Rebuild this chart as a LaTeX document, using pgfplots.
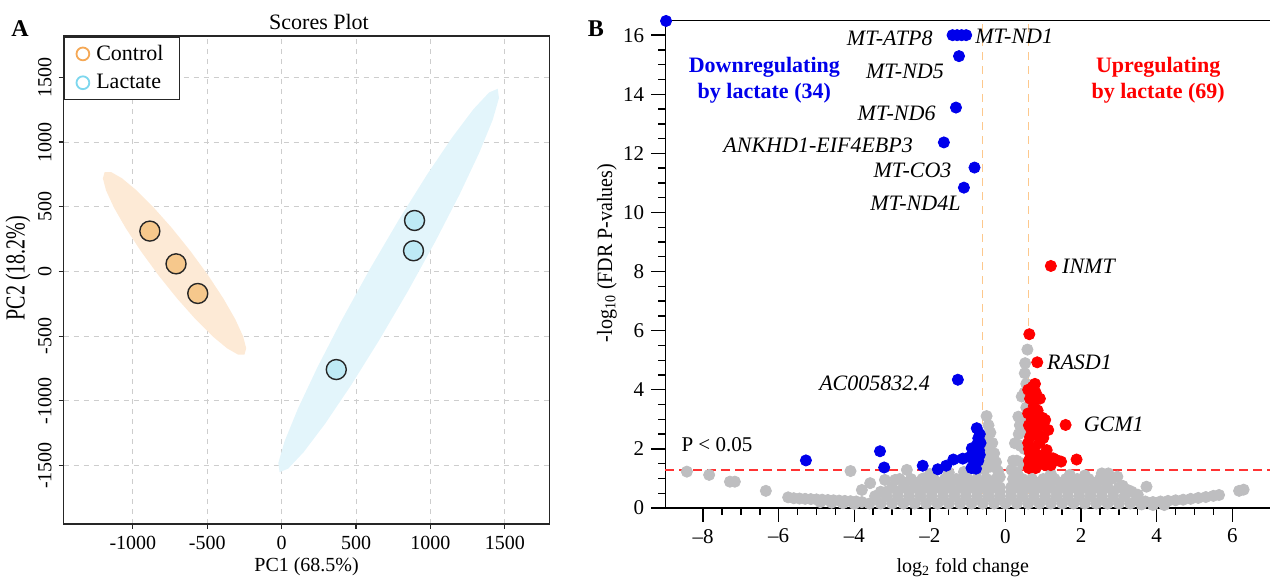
\documentclass[border=0pt]{standalone}
\usepackage{fontspec}
\setmainfont{Liberation Serif}
\usepackage{pgfplots}
\pgfplotsset{compat=1.18}
\definecolor{ctlfill}{RGB}{246,200,140}
\definecolor{lacfill}{RGB}{190,234,245}
\definecolor{ctlell}{RGB}{253,234,214}
\definecolor{lacell}{RGB}{227,245,251}
\definecolor{ctlleg}{RGB}{245,168,85}
\definecolor{lacleg}{RGB}{125,215,238}
\definecolor{gridc}{RGB}{205,205,205}
\definecolor{volblue}{RGB}{0,0,235}
\definecolor{volred}{RGB}{255,0,0}
\definecolor{volgray}{RGB}{190,190,192}
\definecolor{vorange}{RGB}{253,200,140}
\begin{document}
\begin{tikzpicture}
\useasboundingbox (0,0) rectangle (635.5pt,290.5pt);
% ---------------- Panel A ----------------
\begin{axis}[
 at={(31.85pt,28.6pt)}, anchor=south west, scale only axis,
 width=242.9pt, height=243.9pt,
 xmin=-1465, xmax=1800, ymin=-1950, ymax=1820,
 xtick={-1000,-500,0,500,1000,1500},
 ytick={-1500,-1000,-500,0,500,1000,1500},
 tick pos=left, tick align=outside, major tick length=2.5pt,
 tick style={black!85, line width=0.6pt},
 grid=major, grid style={gridc, dash pattern=on 2.5pt off 2.5pt, line width=0.5pt},
 axis line style={black!85, line width=0.8pt},
 /pgf/number format/assume math mode=true,
 /pgf/number format/1000 sep={},
 ticklabel style={font=\fontsize{10}{12}\selectfont},
 yticklabel style={rotate=90, anchor=south},
 xlabel={PC1 (68.5\%)}, ylabel={PC2 (18.2\%)},
 label style={font=\fontsize{10.5}{12}\selectfont},
 every axis x label/.style={at={(axis description cs:0.5,-0.0886)}, anchor=center},
 every axis y label/.style={at={(axis description cs:-0.094,0.524)}, anchor=center, rotate=90, yscale=1.38},
 legend style={at={(axis description cs:0,1)}, anchor=north west, draw=black!85, line width=0.8pt,
   font=\fontsize{11}{13}\selectfont, inner xsep=6pt, inner ysep=2pt, row sep=1.5pt,
   /tikz/every odd column/.append style={column sep=1.5pt}},
 legend cell align=left,
]
\addlegendimage{only marks, mark=o, mark size=3.2pt, mark options={draw=ctlleg, line width=0.9pt}}
\addlegendentry{Control}
\addlegendimage{only marks, mark=o, mark size=3.2pt, mark options={draw=lacleg, line width=0.9pt}}
\addlegendentry{Lactate}
% Control confidence ellipse
\addplot[draw=none, fill=ctlell, forget plot] coordinates {
(-250,-642) (-238.3,-593.7) (-259.5,-500.5) (-312.0,-369.0) (-392.3,-208.1) (-495.0,-28.7)
(-613,157) (-738.2,336.3) (-862.3,496.9) (-976.6,628) (-1073.5,720.5) (-1146.3,768.3)
(-1190,768) (-1201.7,719.7) (-1180.5,626.5) (-1128,495) (-1047.7,334.1) (-945,154.7)
(-827,-31) (-701.8,-210.3) (-577.7,-370.9) (-463.4,-502) (-366.5,-594.5) (-293.7,-642.3)
} -- cycle;
% Lactate confidence ellipse
\addplot[draw=none, fill=lacell, forget plot] coordinates {
(1452,1412) (1460.4,1340) (1418.3,1171.9) (1328.5,919.2) (1197.2,599.1) (1033.3,233.3)
(848,-153) (653.9,-533.7) (464.2,-882.9) (291.9,-1176.6) (148.7,-1394.9) (44.4,-1523)
(-14,-1552) (-22.4,-1480) (19.7,-1311.9) (109.5,-1059.2) (240.8,-739.1) (404.7,-373.3)
(590,13) (784.1,393.7) (973.8,742.9) (1146.1,1036.6) (1289.3,1254.9) (1393.6,1383)
} -- cycle;
\addplot[only marks, mark=*, mark size=5pt, forget plot,
 mark options={fill=ctlfill, draw=black!85, line width=0.7pt}]
 coordinates {(-886,312) (-710,59) (-564,-170)};
\addplot[only marks, mark=*, mark size=5pt, forget plot,
 mark options={fill=lacfill, draw=black!85, line width=0.7pt}]
 coordinates {(893,394) (886,160) (367,-758)};
\end{axis}
\node[font=\fontsize{11}{13}\selectfont] at (159.5pt,279.5pt) {Scores Plot};
\node[font=\fontsize{12}{14}\selectfont\bfseries] at (10pt,276.2pt) {A};
\node[font=\fontsize{12}{14}\selectfont\bfseries] at (298pt,276pt) {B};
% ---------------- Panel B ----------------
\begin{axis}[
 at={(332.65pt,36.5pt)}, anchor=south west, scale only axis,
 width=302.4pt, height=243.8pt,
 xmin=-9, xmax=7, ymin=0, ymax=16.5, clip=false,
 axis lines*=left, axis line style={-, black, line width=0.8pt},
 xtick={-8,-6,-4,-2,0,2,4,6}, xticklabels={–8,–6,–4,–2,0,2,4,6},
 ytick={0,2,4,6,8,10,12,14,16},
 minor x tick num=3, minor y tick num=3,
 tick align=outside, major tick length=7pt, minor tick length=3.5pt,
 tick style={black, line width=0.7pt},
 /pgf/number format/assume math mode=true,
 ticklabel style={font=\fontsize{10.5}{12}\selectfont},
 xlabel={log\textsubscript{2} fold change},
 ylabel={-log\textsubscript{10} (FDR P-values)},
 label style={font=\fontsize{11}{13}\selectfont},
 every axis x label/.style={at={(axis description cs:0.492,-0.123)}, anchor=center},
 every axis y label/.style={at={(axis description cs:-0.0964,0.523)}, anchor=center, rotate=90, yscale=1.09},
]
\addplot[only marks, mark=*, mark size=2.8pt, mark options={fill=volgray, draw=volgray}] coordinates {
(-8.43,1.23) (-7.84,1.12) (-7.29,0.89) (-7.16,0.89) (-6.34,0.58) (-5.75,0.36)
(-5.6,0.33) (-5.45,0.32) (-5.3,0.31) (-5.15,0.3) (-5.0,0.29) (-4.85,0.28) (-4.7,0.27)
(-4.55,0.26) (-4.4,0.25) (-4.25,0.24) (-4.1,0.23) (-3.95,0.22) (-3.8,0.2)
(-4.9,0.2) (-4.6,0.18) (-4.3,0.16) (-4.0,0.14)
(-4.1,1.25) (-3.8,0.61) (-3.58,0.84) (-3.19,0.95) (-2.92,0.95) (-2.61,1.29) (-2.17,1.0) (-3.3,0.55)
(-3.6,0.15) (-3.3,0.15) (-3.0,0.15) (-2.7,0.15) (-2.4,0.15) (-2.1,0.15) (-1.8,0.15) (-1.5,0.15)
(-1.2,0.15) (-0.9,0.15) (-0.6,0.15) (-0.3,0.15) (0.0,0.15) (0.3,0.15) (0.6,0.15) (0.9,0.15)
(1.2,0.15) (1.5,0.15) (1.8,0.15) (2.1,0.15) (2.4,0.15) (2.7,0.15) (3.0,0.15) (3.3,0.15)
(-3.45,0.4) (-3.15,0.4) (-2.85,0.4) (-2.55,0.4) (-2.25,0.4) (-1.95,0.4) (-1.65,0.4) (-1.35,0.4)
(-1.05,0.4) (-0.75,0.4) (-0.45,0.4) (-0.15,0.4) (0.15,0.4) (0.45,0.4) (0.75,0.4) (1.05,0.4)
(1.35,0.4) (1.65,0.4) (1.95,0.4) (2.25,0.4) (2.55,0.4) (2.85,0.4) (3.15,0.4)
(-3.15,0.55) (-2.85,0.55) (-2.55,0.55) (-2.25,0.55) (-1.95,0.55) (-1.65,0.55) (-1.35,0.55)
(-1.05,0.55) (-0.75,0.55) (-0.45,0.55) (-0.15,0.55) (0.15,0.55) (0.45,0.55) (0.75,0.55)
(1.05,0.55) (1.35,0.55) (1.65,0.55) (1.95,0.55) (2.25,0.55) (2.55,0.55) (2.85,0.55)
(-3.0,0.7) (-2.7,0.7) (-2.4,0.7) (-2.1,0.7) (-1.8,0.7) (-1.5,0.7) (-1.2,0.7) (-0.9,0.7)
(-0.6,0.7) (-0.35,0.7) (-0.15,0.7) (0.15,0.7) (0.35,0.7) (0.6,0.7) (0.9,0.7) (1.2,0.7)
(1.5,0.7) (1.8,0.7) (2.1,0.7) (2.4,0.7) (2.7,0.7) (3.0,0.7)
(-2.65,0.85) (-2.35,0.85) (-2.05,0.85) (-1.75,0.85) (-1.45,0.85) (-1.15,0.85) (-0.85,0.85)
(-0.55,0.85) (-0.3,0.85) (0.3,0.85) (0.55,0.85) (0.85,0.85) (1.15,0.85) (1.45,0.85)
(1.75,0.85) (2.05,0.85) (2.35,0.85) (2.65,0.85)
(-2.8,0.98) (-2.5,0.98) (-2.2,0.98) (-1.9,0.98) (-1.6,0.98) (-1.3,0.98) (-1.0,0.98) (-0.75,0.98)
(-0.5,0.98) (-0.25,0.98) (0.2,0.98) (0.45,0.98) (0.7,0.98) (1.0,0.98) (1.3,0.98) (1.6,0.98)
(1.9,0.98) (2.2,0.98) (2.5,0.98) (2.8,0.98)
(-2.0,1.15) (-1.5,1.2) (-1.1,1.22) (-0.75,1.28) (1.2,1.15) (1.7,1.12) (2.1,1.1) (2.55,1.17)
(2.72,1.17) (2.96,1.06)
(-0.5,3.11) (-0.45,2.8) (-0.4,2.55) (-0.48,2.3) (-0.35,2.2) (-0.45,1.95) (-0.3,1.85) (-0.5,1.65)
(-0.25,1.55) (-0.4,1.4) (-0.2,1.25) (-0.55,1.3) (-0.6,1.5) (-0.15,1.05) (-0.55,2.0)
(0.16,1.29) (0.25,2.19) (0.34,3.09) (0.43,3.77) (0.51,4.56) (0.58,5.36) (0.3,1.6) (0.4,2.1)
(0.5,2.6) (0.45,3.0) (0.55,3.4) (0.5,3.9) (0.55,4.2) (0.2,1.6) (0.35,2.5) (0.5,2.0) (0.45,1.5)
(0.52,4.9) (0.3,1.2) (0.38,2.8)
(3.34,0.55) (3.73,0.72) (3.5,0.45) (3.1,0.75) (3.25,0.6) (3.47,0.27) (3.7,0.22) (3.9,0.2)
(4.1,0.22) (4.3,0.24) (4.5,0.26) (4.7,0.28) (4.9,0.31) (5.1,0.34) (5.3,0.37) (5.5,0.41)
(5.65,0.44) (6.18,0.58) (6.3,0.62) (3.6,0.12) (3.9,0.1) (4.2,0.1)
};
% thresholds
\addplot[color=vorange, line width=0.6pt, dash pattern=on 4pt off 3pt] coordinates {(-0.6,0) (-0.6,16.5)};
\addplot[color=vorange, line width=0.6pt, dash pattern=on 4pt off 3pt] coordinates {(0.6,0) (0.6,16.5)};
\addplot[color=red!80, line width=1pt, dash pattern=on 4.5pt off 2.5pt] coordinates {(-9,1.301) (7,1.301)};
% downregulated
\addplot[only marks, mark=*, mark size=2.8pt, mark options={fill=volblue, draw=volblue}] coordinates {
(-8.98,16.48) (-1.40,16.0) (-1.28,16.0) (-1.16,16.0) (-1.04,16.0) (-1.23,15.29) (-1.31,13.55)
(-1.63,12.37) (-0.82,11.52) (-1.10,10.84) (-1.26,4.34) (-5.28,1.61) (-3.32,1.92) (-3.21,1.37)
(-2.19,1.43) (-1.79,1.31) (-1.57,1.43) (-1.38,1.64) (-1.13,1.67) (-0.95,1.72) (-0.89,2.02)
(-0.86,1.85) (-0.76,2.7) (-0.72,2.36) (-0.68,2.5) (-0.8,1.55) (-0.85,1.4) (-0.9,1.35)
(-0.7,1.95) (-0.75,2.15) (-0.72,1.6) (-0.68,1.8) (-0.78,1.33) (-0.66,2.2)
};
% upregulated
\addplot[only marks, mark=*, mark size=2.8pt, mark options={fill=volred, draw=volred}] coordinates {
(1.2,8.19) (0.63,5.88) (0.84,4.93) (1.59,2.81) (1.88,1.64) (0.78,4.2) (0.8,3.9) (0.65,3.7)
(0.91,3.7) (0.6,3.2) (0.75,3.45) (0.85,3.3) (0.7,3.0) (1.05,2.98) (1.13,2.64) (0.95,2.8)
(0.62,2.8) (0.8,2.6) (1.0,2.37) (0.65,2.4) (0.9,2.2) (1.09,1.96) (0.62,2.0) (0.75,2.0)
(0.85,1.8) (0.62,1.6) (0.72,1.5) (0.95,1.6) (1.26,1.68) (1.35,1.62) (1.47,1.57) (0.62,1.35)
(0.8,1.35) (1.05,1.45) (1.2,1.45) (0.7,1.7) (0.88,2.45) (0.68,2.65) (0.78,2.85) (0.98,3.05)
(0.6,4.0) (0.72,4.1) (1.0,1.75) (0.6,2.2) (0.85,3.0) (0.65,1.85)
};
\draw[black, line width=0.8pt] (rel axis cs:0,1) -- (rel axis cs:1,1);
\begin{scope}[every node/.style={font=\fontsize{11}{13}\selectfont\itshape, inner sep=0pt}]
\node[anchor=east] at (axis cs:-1.92,15.9) {MT-ATP8};
\node[anchor=west] at (axis cs:-0.81,15.95) {MT-ND1};
\node[anchor=east] at (axis cs:-1.62,14.79) {MT-ND5};
\node[anchor=east] at (axis cs:-1.84,13.35) {MT-ND6};
\node[anchor=east] at (axis cs:-2.44,12.27) {ANKHD1-EIF4EBP3};
\node[anchor=east] at (axis cs:-1.42,11.43) {MT-CO3};
\node[anchor=east] at (axis cs:-1.18,10.30) {MT-ND4L};
\node[anchor=west] at (axis cs:1.49,8.19) {INMT};
\node[anchor=west] at (axis cs:1.09,4.92) {RASD1};
\node[anchor=west] at (axis cs:2.06,2.84) {GCM1};
\node[anchor=east] at (axis cs:-1.99,4.22) {AC005832.4};
\end{scope}
\node[anchor=west, inner sep=0pt, font=\fontsize{10.5}{12}\selectfont] at (axis cs:-8.58,2.13) {P < 0.05};
\node[align=center, text=volblue, font=\fontsize{11}{13.3}\selectfont\bfseries] at (axis cs:-6.38,14.47) {Downregulating\\by lactate (34)};
\node[align=center, text=volred, font=\fontsize{11}{13.3}\selectfont\bfseries] at (axis cs:4.04,14.47) {Upregulating\\by lactate (69)};
\end{axis}
\end{tikzpicture}
\end{document}
